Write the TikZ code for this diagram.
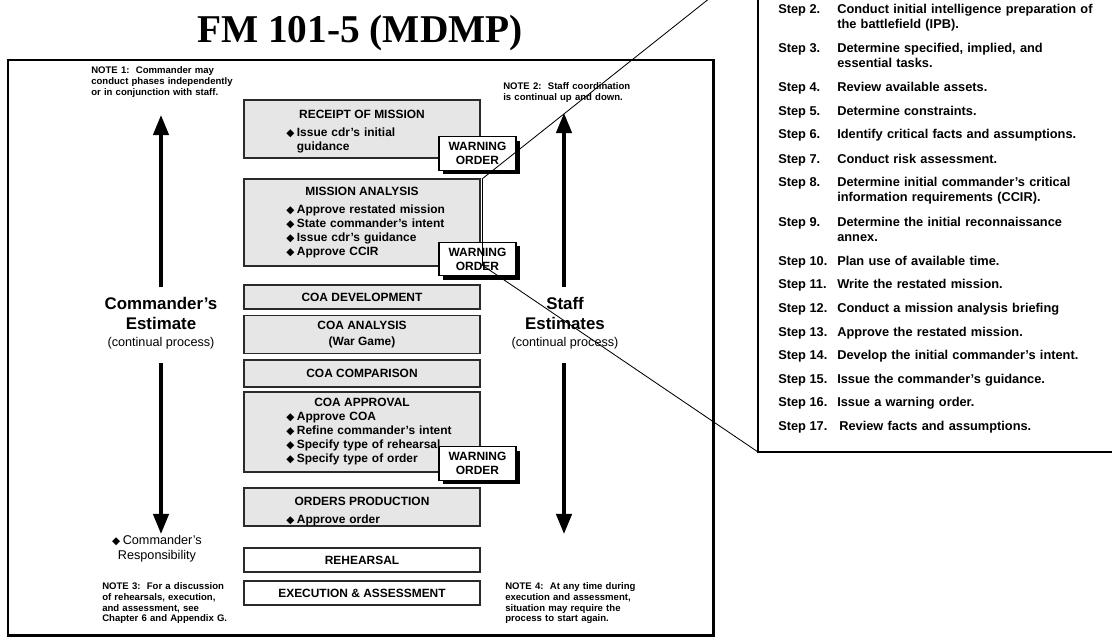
\documentclass[tikz,border=0pt]{standalone}
\usepackage{fontspec}
\setmainfont{Liberation Sans}
\newfontfamily\titlefont{Liberation Serif}
\newfontfamily\symfont{DejaVu Sans}
\usetikzlibrary{positioning,arrows.meta,shadows}
\usepackage{xcolor}

\definecolor{phasegray}{HTML}{E6E6E6}
\definecolor{edgegray}{HTML}{2A2A2A}
\newcommand{\dmd}{\raisebox{0.2pt}{\symfont\fontsize{7.5}{7.5}\selectfont ◆}\hspace{1.8pt}}

\begin{document}
\begin{tikzpicture}[
        x=0.025cm, y=-0.025cm,
        frame/.style={draw=black, line width=2.1pt, inner sep=0pt, outer sep=0pt},
        phasebox/.style={
            draw=edgegray,
            line width=0.8pt,
            fill=phasegray,
            minimum width=5.9cm,
            inner sep=0pt,
            align=center,
            font=\fontsize{8.5}{11.4}\selectfont\bfseries
        },
        plainbox/.style={phasebox, fill=white},
        warnbox/.style={
            draw=black,
            line width=0.8pt,
            fill=white,
            minimum width=1.925cm,
            minimum height=0.84cm,
            inner sep=0pt,
            align=center,
            font=\fontsize{8.5}{10}\selectfont\bfseries,
            drop shadow={shadow xshift=2.8pt, shadow yshift=-2.8pt, fill=black, opacity=1}
        },
        phtitle/.style={font=\fontsize{8.5}{10}\selectfont\bfseries, inner sep=0pt, anchor=mid},
        phitems/.style={font=\fontsize{8.5}{10}\selectfont\bfseries, inner sep=0pt, text width=5cm, align=left, anchor=mid west},
        notetext/.style={font=\fontsize{6.8}{7.6}\selectfont\bfseries, inner sep=0pt, text width=5cm, align=left, anchor=mid west},
        estlabel/.style={font=\fontsize{12}{14}\selectfont\bfseries, inner sep=0pt, text width=4cm, align=center, anchor=mid},
        estsub/.style={font=\fontsize{9}{11}\selectfont, inner sep=0pt, anchor=mid},
        bigarrow/.style={-{Triangle[length=0.5cm, width=0.38cm]}, line width=2.6pt},
        stepnum/.style={font=\fontsize{9.1}{10.7}\selectfont\bfseries, inner sep=0pt, anchor=mid west},
        stepdesc/.style={stepnum, text width=7cm, align=left},
        zoomline/.style={draw=black, line width=0.6pt}
    ]
        \clip (0,0) rectangle (1112,637);

        % Title
        \node[font=\titlefont\fontsize{28}{30}\selectfont\bfseries, inner sep=0pt, anchor=base] (title) at (360,43) {FM 101-5 (MDMP)};

        % Outer frames
        \node[frame, anchor=north west, minimum width=17.625cm, minimum height=14.375cm] (mainbox) at (8,60) {};
        \node[frame, anchor=south west, minimum width=9.6cm, minimum height=12.3cm] (stepbox) at (758,452) {};

        % Phase boxes
        \node[phasebox, minimum height=1.45cm] (rom) at (362,129) {};
        \node[phasebox, minimum height=2.175cm] (ma) at (362,222.5) {};
        \node[phasebox, minimum height=0.6cm] (cdev) at (362,297) {COA DEVELOPMENT};
        \node[phasebox, minimum height=0.95cm] (can) at (362,334.5) {COA ANALYSIS\\(War Game)};
        \node[phasebox, minimum height=0.675cm] (ccomp) at (362,373.5) {COA COMPARISON};
        \node[phasebox, minimum height=2.0cm] (capp) at (362,432) {};
        \node[phasebox, minimum height=0.95cm] (ordp) at (362,507) {};
        \node[plainbox, minimum height=0.6cm] (reh) at (362,560) {REHEARSAL};
        \node[plainbox, minimum height=0.6cm] (exec) at (362,593) {EXECUTION \& ASSESSMENT};

        % Box contents
        \node[phtitle] (romt) at (362,115) {RECEIPT OF MISSION};
        \node[phitems] (romi) at (286,133) {\dmd Issue cdr's initial\\\phantom{\dmd}guidance};
        \node[phtitle] (mat) at (362,192) {MISSION ANALYSIS};
        \node[phitems] (mai) at (286,210) {\dmd Approve restated mission\\\dmd State commander's intent\\\dmd Issue cdr's guidance\\\dmd Approve CCIR};
        \node[phtitle] (cappt) at (362,403) {COA APPROVAL};
        \node[phitems] (cappi) at (286,417) {\dmd Approve COA\\\dmd Refine commander's intent\\\dmd Specify type of rehearsal\\\dmd Specify type of order};
        \node[phtitle] (ordpt) at (362,502) {ORDERS PRODUCTION};
        \node[phitems] (ordpi) at (286,520) {\dmd Approve order};

        % Warning orders
        \node[warnbox] (wo1) at (477.5,153.5) {WARNING\\ORDER};
        \node[warnbox] (wo2) at (477.5,259) {WARNING\\ORDER};
        \node[warnbox] (wo3) at (477.5,463.5) {WARNING\\ORDER};

        % Notes
        \node[notetext] (note1) at (91,70) {NOTE 1:\ \ Commander may\\conduct phases independently\\or in conjunction with staff.};
        \node[notetext] (note2) at (503,86) {NOTE 2:\ \ Staff coordination\\is continual up and down.};
        \node[notetext] (note3) at (102,586) {NOTE 3:\ \ For a discussion\\of rehearsals, execution,\\and assessment, see\\Chapter 6 and Appendix G.};
        \node[notetext] (note4) at (505,586) {NOTE 4:\ \ At any time during\\execution and assessment,\\situation may require the\\process to start again.};

        % Estimates
        \node[estlabel] (cest) at (161,306) {Commander's\\Estimate};
        \node[estsub] (cestp) at (161,343) {(continual process)};
        \node[estlabel] (sest) at (565,306) {Staff\\Estimates};
        \node[estsub] (sestp) at (565,343) {(continual process)};
        \node[font=\fontsize{9}{10.7}\selectfont, inner sep=0pt, text width=3cm, align=center, anchor=mid] (cresp) at (157,541) {\dmd Commander's\\Responsibility};

        % Estimate arrows
        \coordinate (cu0) at (161,287); \coordinate (cu1) at (161,115);
        \coordinate (cd0) at (161,363); \coordinate (cd1) at (161,534);
        \coordinate (su0) at (564,287); \coordinate (su1) at (564,113);
        \coordinate (sd0) at (564,363); \coordinate (sd1) at (564,534);
        \draw[bigarrow] (cu0) -- (cu1);
        \draw[bigarrow] (cd0) -- (cd1);
        \draw[bigarrow] (su0) -- (su1);
        \draw[bigarrow] (sd0) -- (sd1);

        % Mission analysis steps
        \node[stepnum] (s2) at (778,10) {Step 2.};
        \node[stepdesc] (d2) at (837,10) {Conduct initial intelligence preparation of\\the battlefield (IPB).};
        \node[stepnum] (s3) at (778,49) {Step 3.};
        \node[stepdesc] (d3) at (837,49) {Determine specified, implied, and\\essential tasks.};
        \node[stepnum] (s4) at (778,88) {Step 4.};
        \node[stepdesc] (d4) at (837,88) {Review available assets.};
        \node[stepnum] (s5) at (778,112) {Step 5.};
        \node[stepdesc] (d5) at (837,112) {Determine constraints.};
        \node[stepnum] (s6) at (778,135) {Step 6.};
        \node[stepdesc] (d6) at (837,135) {Identify critical facts and assumptions.};
        \node[stepnum] (s7) at (778,160) {Step 7.};
        \node[stepdesc] (d7) at (837,160) {Conduct risk assessment.};
        \node[stepnum] (s8) at (778,183) {Step 8.};
        \node[stepdesc] (d8) at (837,183) {Determine initial commander's critical\\information requirements (CCIR).};
        \node[stepnum] (s9) at (778,223) {Step 9.};
        \node[stepdesc] (d9) at (837,223) {Determine the initial reconnaissance\\annex.};
        \node[stepnum] (s10) at (778,262) {Step 10.};
        \node[stepdesc] (d10) at (837,262) {Plan use of available time.};
        \node[stepnum] (s11) at (778,285) {Step 11.};
        \node[stepdesc] (d11) at (837,285) {Write the restated mission.};
        \node[stepnum] (s12) at (778,309) {Step 12.};
        \node[stepdesc] (d12) at (837,309) {Conduct a mission analysis briefing};
        \node[stepnum] (s13) at (778,333) {Step 13.};
        \node[stepdesc] (d13) at (837,333) {Approve the restated mission.};
        \node[stepnum] (s14) at (778,356) {Step 14.};
        \node[stepdesc] (d14) at (837,356) {Develop the initial commander's intent.};
        \node[stepnum] (s15) at (778,380) {Step 15.};
        \node[stepdesc] (d15) at (837,380) {Issue the commander's guidance.};
        \node[stepnum] (s16) at (778,403) {Step 16.};
        \node[stepdesc] (d16) at (837,403) {Issue a warning order.};
        \node[stepnum] (s17) at (778,427) {Step 17.};
        \node[stepdesc] (d17) at (839,427) {Review facts and assumptions.};

        % Callout from mission analysis to the step list
        \coordinate (zt) at (482,179);
        \coordinate (zb) at (482,265);
        \draw[zoomline] (zt) -- (zb);
        \draw[zoomline] (zt) -- (stepbox.north west);
        \draw[zoomline] (zb) -- (stepbox.south west);
    \end{tikzpicture}
\end{document}
